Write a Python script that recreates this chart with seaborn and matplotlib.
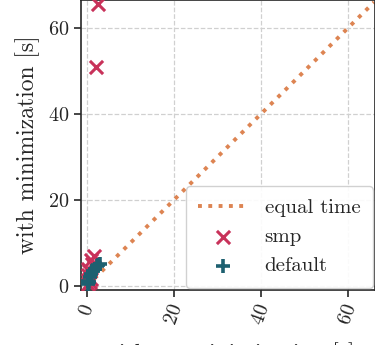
import pandas as pd
import matplotlib
matplotlib.use("Agg")
import matplotlib.pyplot as plt
import seaborn as sns

# data
smp_without = [0.1, 0.2, 0.3, 0.5, 0.6, 0.8, 1.0, 1.2, 1.5, 2.0, 2.5]
smp_with = [0.5, 4.0, 2.5, 3.5, 0.8, 1.5, 6.0, 5.0, 6.8, 51.0, 65.5]
default_without = [0.1, 0.3, 0.5, 0.6, 1.0, 1.4, 1.8, 2.2, 2.6, 3.0]
default_with = [0.3, 1.0, 0.8, 2.0, 2.8, 3.5, 4.0, 4.5, 4.8, 5.0]
equal_line = [0, 66]
ticks = [0, 20, 40, 60]

sns.set_style("ticks")
plt.rcParams["font.family"] = ["cmr10", "DejaVu Serif"]
plt.rcParams["axes.formatter.use_mathtext"] = True
plt.rcParams["mathtext.fontset"] = "cm"

fig = plt.figure(figsize=(3.75, 3.45), dpi=100)
ax = fig.add_axes([81 / 375, 55 / 345, 294 / 375, 290 / 345])

sns.lineplot(x=equal_line, y=equal_line, ls=":", color="#dd8452", lw=2.8,
             label="equal time", ax=ax, zorder=2)
sns.scatterplot(x=smp_without, y=smp_with, marker="x", s=90, color="#c8325a",
                linewidth=2.2, label="smp", ax=ax, zorder=3)
sns.scatterplot(x=default_without, y=default_with, marker="+", s=100, color="#1d6070",
                linewidth=2.6, label="default", ax=ax, zorder=4)

ax.set_xlim(-1.4, 66.2)
ax.set_ylim(-1.0, 66.5)
ax.set_xticks(ticks)
ax.set_yticks(ticks)
ax.grid(True, ls="--", color="#d0d0d0", lw=0.9)
ax.set_axisbelow(True)
for lab in ax.get_xticklabels():
    lab.set_rotation(70)
ax.tick_params(labelsize=14.5, width=1.2, length=5)
for s in ax.spines.values():
    s.set_linewidth(1.2)
ax.set_xlabel("without minimization [s]", fontsize=17, labelpad=10.5)
ax.set_ylabel("with minimization [s]", fontsize=17, labelpad=6)

ax.legend(loc="lower right", fontsize=15, frameon=True, framealpha=0.9,
          edgecolor="#cccccc", borderpad=0.6, handlelength=2.4,
          labelspacing=0.5, borderaxespad=0.1)

fig.savefig("out.png", dpi=100)
